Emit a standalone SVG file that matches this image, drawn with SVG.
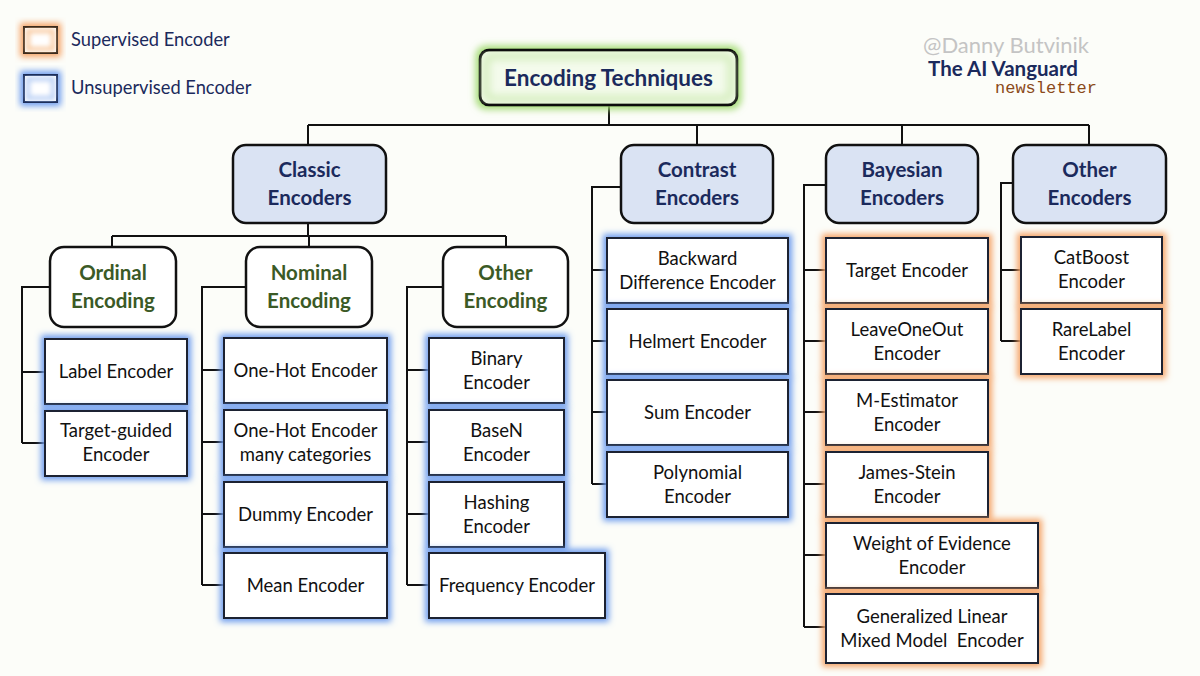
<svg xmlns="http://www.w3.org/2000/svg" width="1200" height="676" viewBox="0 0 1200 676">
<defs>
<style>
.bg{fill:#fcfdf9}
.conn{fill:none;stroke:#111;stroke-width:2}
.root{fill:#f4fbec;stroke:#111;stroke-width:3}
.cat{fill:#dae3f3;stroke:#111;stroke-width:2.5}
.sub{fill:#ffffff;stroke:#111;stroke-width:2.5}
.leaf{fill:#ffffff;stroke:#1c2233;stroke-width:2}
.tRoot{font-family:Lato,"Liberation Sans",sans-serif;font-weight:700;font-size:22.5px;fill:#1b2a5c;text-anchor:middle}
.tCat{font-family:Lato,"Liberation Sans",sans-serif;font-weight:700;font-size:20.5px;fill:#1b2a5c;text-anchor:middle}
.tSub{font-family:Lato,"Liberation Sans",sans-serif;font-weight:700;font-size:20.5px;fill:#3b5a26;text-anchor:middle}
.tLeaf{font-family:Lato,"Liberation Sans",sans-serif;font-size:18.5px;fill:#111;text-anchor:middle}
.tLeg{font-family:Lato,"Liberation Sans",sans-serif;font-size:18.3px;fill:#1b2a5c}
</style>
<filter id="gBlue" x="-25%" y="-35%" width="150%" height="170%">
<feMorphology in="SourceAlpha" operator="dilate" radius="2.5" result="d"/>
<feGaussianBlur in="d" stdDeviation="3.2" result="b"/>
<feFlood flood-color="#6e9cee"/>
<feComposite in2="b" operator="in" result="g"/>
<feMerge><feMergeNode in="g"/><feMergeNode in="SourceGraphic"/></feMerge>
</filter>
<filter id="gOrange" x="-25%" y="-35%" width="150%" height="170%">
<feMorphology in="SourceAlpha" operator="dilate" radius="2.5" result="d"/>
<feGaussianBlur in="d" stdDeviation="3.2" result="b"/>
<feFlood flood-color="#f5a468"/>
<feComposite in2="b" operator="in" result="g"/>
<feMerge><feMergeNode in="g"/><feMergeNode in="SourceGraphic"/></feMerge>
</filter>
<filter id="gGreen" x="-20%" y="-50%" width="140%" height="200%">
<feMorphology in="SourceAlpha" operator="dilate" radius="3" result="d"/>
<feGaussianBlur in="d" stdDeviation="3.5" result="b"/>
<feFlood flood-color="#a6dc78"/>
<feComposite in2="b" operator="in" result="g"/>
<feMerge><feMergeNode in="g"/><feMergeNode in="SourceGraphic"/></feMerge>
</filter>
<filter id="innerGreen" x="-5%" y="-10%" width="110%" height="120%">
<feGaussianBlur stdDeviation="4"/>
</filter>
<filter id="innerSoft" x="-20%" y="-20%" width="140%" height="140%">
<feGaussianBlur stdDeviation="2.5"/>
</filter>
</defs>
<rect class="bg" x="0" y="0" width="1200" height="676"/>

<g id="legend">
<rect x="24" y="27" width="33" height="26" fill="#fff" stroke="#3b2a1a" stroke-width="2" filter="url(#gOrange)"/>
<rect x="28" y="31" width="25" height="18" fill="none" stroke="#f8c79c" stroke-width="4" filter="url(#innerSoft)"/>
<text class="tLeg" x="71" y="46">Supervised Encoder</text>
<rect x="24" y="75" width="33" height="27" fill="#fff" stroke="#1f2d5a" stroke-width="2" filter="url(#gBlue)"/>
<rect x="28" y="79" width="25" height="19" fill="none" stroke="#b6cdf4" stroke-width="4" filter="url(#innerSoft)"/>
<text class="tLeg" x="71" y="94">Unsupervised Encoder</text>
</g>

<g id="credits">
<text x="1006" y="53" font-family="Lato,'Liberation Sans',sans-serif" font-size="22" fill="#c4c4c4" text-anchor="middle">@Danny Butvinik</text>
<text x="1003" y="76" font-family="Lato,'Liberation Sans',sans-serif" font-size="20.5" font-weight="700" fill="#1b2a5c" text-anchor="middle">The AI Vanguard</text>
<text x="1046" y="93" font-family="'Liberation Mono',monospace" font-size="17" fill="#8b4a1a" text-anchor="middle">newsletter</text>
</g>

<g id="connectors">
<path class="conn" d="M609,105V125M308,125H1089M308,125V145M697,125V145M902,125V145M1089,125V145"/>
<path class="conn" d="M308,223V236M112,236H506M112,236V247M309,236V247M506,236V247"/>
<path class="conn" d="M50,287H22V443M22,372H45M22,443H45"/>
<path class="conn" d="M246,287H202V585M202,370H224M202,442H224M202,514H224M202,585H224"/>
<path class="conn" d="M443,287H407V585M407,370H429M407,442H429M407,514H429M407,585H429"/>
<path class="conn" d="M621,187H592V484M592,270H607M592,341H607M592,412H607M592,484H607"/>
<path class="conn" d="M826,185H804V627M804,270H826M804,341H826M804,412H826M804,484H826M804,555H826M804,627H826"/>
<path class="conn" d="M1013,183H1001V341M1001,270H1021M1001,341H1021"/>
</g>

<g id="root">
<rect class="root" x="480" y="50" width="257" height="55" rx="9" filter="url(#gGreen)"/>
<rect x="486" y="56" width="245" height="43" rx="6" fill="none" stroke="#cdeab2" stroke-width="6" filter="url(#innerGreen)"/>
<text class="tRoot" x="608.5" y="86">Encoding Techniques</text>
</g>

<g id="classic">
<rect class="cat" x="233" y="145" width="153" height="78" rx="13"/>
<text class="tCat" x="309.5" y="177">Classic</text>
<text class="tCat" x="309.5" y="205">Encoders</text>
</g>
<g id="contrast">
<rect class="cat" x="621" y="145" width="152" height="78" rx="13"/>
<text class="tCat" x="697" y="177">Contrast</text>
<text class="tCat" x="697" y="205">Encoders</text>
</g>
<g id="bayesian">
<rect class="cat" x="826" y="145" width="152" height="78" rx="13"/>
<text class="tCat" x="902" y="177">Bayesian</text>
<text class="tCat" x="902" y="205">Encoders</text>
</g>
<g id="other-encoders">
<rect class="cat" x="1013" y="145" width="153" height="78" rx="13"/>
<text class="tCat" x="1089.5" y="177">Other</text>
<text class="tCat" x="1089.5" y="205">Encoders</text>
</g>

<g id="ordinal">
<rect class="sub" x="50" y="247" width="126" height="80" rx="14"/>
<text class="tSub" x="113" y="280">Ordinal</text>
<text class="tSub" x="113" y="308">Encoding</text>
</g>
<g id="nominal">
<rect class="sub" x="246" y="247" width="126" height="80" rx="14"/>
<text class="tSub" x="309" y="280">Nominal</text>
<text class="tSub" x="309" y="308">Encoding</text>
</g>
<g id="other-encoding">
<rect class="sub" x="443" y="247" width="125" height="80" rx="14"/>
<text class="tSub" x="505.5" y="280">Other</text>
<text class="tSub" x="505.5" y="308">Encoding</text>
</g>

<g id="label-encoder">
<rect class="leaf" x="45" y="339" width="142" height="65" filter="url(#gBlue)"/>
<text class="tLeaf" x="116" y="378">Label Encoder</text>
</g>
<g id="target-guided">
<rect class="leaf" x="45" y="411" width="142" height="65" filter="url(#gBlue)"/>
<text class="tLeaf" x="116" y="437">Target-guided</text>
<text class="tLeaf" x="116" y="461">Encoder</text>
</g>

<g id="one-hot">
<rect class="leaf" x="224" y="338" width="163" height="65" filter="url(#gBlue)"/>
<text class="tLeaf" x="305.5" y="377">One-Hot Encoder</text>
</g>
<g id="one-hot-many">
<rect class="leaf" x="224" y="410" width="163" height="65" filter="url(#gBlue)"/>
<text class="tLeaf" x="305.5" y="437">One-Hot Encoder</text>
<text class="tLeaf" x="305.5" y="461">many categories</text>
</g>
<g id="dummy">
<rect class="leaf" x="224" y="482" width="163" height="65" filter="url(#gBlue)"/>
<text class="tLeaf" x="305.5" y="521">Dummy Encoder</text>
</g>
<g id="mean">
<rect class="leaf" x="224" y="553" width="163" height="65" filter="url(#gBlue)"/>
<text class="tLeaf" x="305.5" y="592">Mean Encoder</text>
</g>

<g id="binary">
<rect class="leaf" x="429" y="338" width="135" height="65" filter="url(#gBlue)"/>
<text class="tLeaf" x="496.5" y="365">Binary</text>
<text class="tLeaf" x="496.5" y="389">Encoder</text>
</g>
<g id="basen">
<rect class="leaf" x="429" y="410" width="135" height="65" filter="url(#gBlue)"/>
<text class="tLeaf" x="496.5" y="437">BaseN</text>
<text class="tLeaf" x="496.5" y="461">Encoder</text>
</g>
<g id="hashing">
<rect class="leaf" x="429" y="482" width="135" height="65" filter="url(#gBlue)"/>
<text class="tLeaf" x="496.5" y="509">Hashing</text>
<text class="tLeaf" x="496.5" y="533">Encoder</text>
</g>
<g id="frequency">
<rect class="leaf" x="429" y="553" width="176" height="65" filter="url(#gBlue)"/>
<text class="tLeaf" x="517" y="592">Frequency Encoder</text>
</g>

<g id="backward-difference">
<rect class="leaf" x="607" y="238" width="181" height="65" filter="url(#gBlue)"/>
<text class="tLeaf" x="697.5" y="265">Backward</text>
<text class="tLeaf" x="697.5" y="289">Difference Encoder</text>
</g>
<g id="helmert">
<rect class="leaf" x="607" y="309" width="181" height="65" filter="url(#gBlue)"/>
<text class="tLeaf" x="697.5" y="348">Helmert Encoder</text>
</g>
<g id="sum">
<rect class="leaf" x="607" y="380" width="181" height="65" filter="url(#gBlue)"/>
<text class="tLeaf" x="697.5" y="419">Sum Encoder</text>
</g>
<g id="polynomial">
<rect class="leaf" x="607" y="452" width="181" height="65" filter="url(#gBlue)"/>
<text class="tLeaf" x="697.5" y="479">Polynomial</text>
<text class="tLeaf" x="697.5" y="503">Encoder</text>
</g>

<g id="target-encoder">
<rect class="leaf" x="826" y="238" width="162" height="65" filter="url(#gOrange)"/>
<text class="tLeaf" x="907" y="277">Target Encoder</text>
</g>
<g id="leave-one-out">
<rect class="leaf" x="826" y="309" width="162" height="65" filter="url(#gOrange)"/>
<text class="tLeaf" x="907" y="336">LeaveOneOut</text>
<text class="tLeaf" x="907" y="360">Encoder</text>
</g>
<g id="m-estimator">
<rect class="leaf" x="826" y="380" width="162" height="65" filter="url(#gOrange)"/>
<text class="tLeaf" x="907" y="407">M-Estimator</text>
<text class="tLeaf" x="907" y="431">Encoder</text>
</g>
<g id="james-stein">
<rect class="leaf" x="826" y="452" width="162" height="65" filter="url(#gOrange)"/>
<text class="tLeaf" x="907" y="479">James-Stein</text>
<text class="tLeaf" x="907" y="503">Encoder</text>
</g>
<g id="woe">
<rect class="leaf" x="826" y="523" width="212" height="65" filter="url(#gOrange)"/>
<text class="tLeaf" x="932" y="550">Weight of Evidence</text>
<text class="tLeaf" x="932" y="574">Encoder</text>
</g>
<g id="glmm">
<rect class="leaf" x="826" y="594" width="212" height="69" filter="url(#gOrange)"/>
<text class="tLeaf" x="932" y="623">Generalized Linear</text>
<text class="tLeaf" x="932" y="647" xml:space="preserve">Mixed Model  Encoder</text>
</g>

<g id="catboost">
<rect class="leaf" x="1021" y="237" width="141" height="66" filter="url(#gOrange)"/>
<text class="tLeaf" x="1091.5" y="264">CatBoost</text>
<text class="tLeaf" x="1091.5" y="288">Encoder</text>
</g>
<g id="rarelabel">
<rect class="leaf" x="1021" y="309" width="141" height="65" filter="url(#gOrange)"/>
<text class="tLeaf" x="1091.5" y="336">RareLabel</text>
<text class="tLeaf" x="1091.5" y="360">Encoder</text>
</g>
</svg>
